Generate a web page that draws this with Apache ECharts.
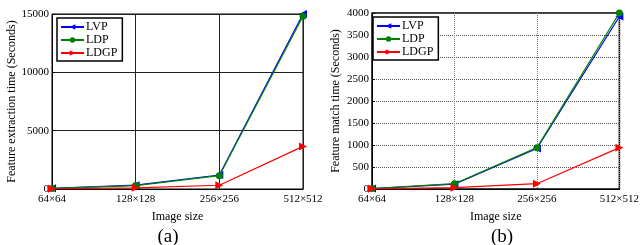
<!DOCTYPE html>
<html><head><meta charset="utf-8">
<script src="https://cdn.jsdelivr.net/npm/echarts@6/dist/echarts.min.js"></script>
<style>html,body{margin:0;padding:0;background:#fff}#c{width:642px;height:245px}</style>
</head><body><div id="c"></div>
<script>
const categories = ['64×64', '128×128', '256×256', '512×512'];
const extLVP = [60, 330, 1200, 15000];
const extLDP = [50, 290, 1140, 14800];
const extLDGP = [20, 100, 320, 3650];
const matchLVP = [10, 110, 920, 3920];
const matchLDP = [10, 120, 940, 4000];
const matchLDGP = [5, 30, 120, 940];
const extTicks = [0, 5000, 10000, 15000];
const matchTicks = [0, 500, 1000, 1500, 2000, 2500, 3000, 3500, 4000];

const F = '"Liberation Serif", "Times New Roman", serif';
const leftArrow = 'path://M0,5 L10,0 L10,10 Z';
const rightArrow = 'path://M10,5 L0,0 L0,10 Z';
const names = ['LVP', 'LDP', 'LDGP'];
const colors = ['#0000ff', '#008000', '#ff0000'];
const symbols = [leftArrow, 'circle', rightArrow];

const chart = echarts.init(document.getElementById('c'));
function mkX(i) {
  return {
    type: 'category', gridIndex: i, data: categories, boundaryGap: false,
    name: 'Image size', nameLocation: 'middle', nameGap: 22,
    nameTextStyle: { fontFamily: F, fontSize: 12, color: '#000' },
    axisLine: { lineStyle: { color: '#000', width: 1 } },
    axisTick: { show: false },
    axisLabel: { fontFamily: F, fontSize: 11, color: '#000', margin: 5, showMaxLabel: true },
    splitLine: { show: true, lineStyle: { color: i === 0 ? '#222' : '#777', width: 1, type: i === 0 ? 'solid' : 'dotted' } }
  };
}
function mkY(i, ticks, name, nameGap) {
  const max = ticks[ticks.length - 1];
  return {
    type: 'value', gridIndex: i, min: ticks[0], max: max, interval: ticks[1] - ticks[0],
    name: name, nameLocation: 'middle', nameGap: nameGap,
    nameTextStyle: { fontFamily: F, fontSize: 12, color: '#000' },
    axisLine: { show: true, lineStyle: { color: '#000', width: 1 } },
    axisTick: { show: true, inside: true, length: 3, lineStyle: { color: '#000' } },
    axisLabel: { fontFamily: F, fontSize: 11, color: '#000', margin: 3, formatter: v => String(v) },
    splitLine: { show: true, lineStyle: { color: i === 0 ? '#222' : '#555', width: 1, type: i === 0 ? 'solid' : 'dotted' } }
  };
}
const series = [];
const dataSets = [[extLVP, extLDP, extLDGP], [matchLVP, matchLDP, matchLDGP]];
for (let g = 0; g < 2; g++) {
  for (let k = 0; k < 3; k++) {
    series.push({
      type: 'line', name: names[k], xAxisIndex: g, yAxisIndex: g,
      data: dataSets[g][k], symbol: symbols[k], symbolSize: k === 1 ? 7 : 8,
      showAllSymbol: true, color: colors[k],
      lineStyle: { color: colors[k], width: 1.2 },
      itemStyle: { color: colors[k] }, z: 2 + k, animation: false
    });
  }
}
const legendCommon = {
  orient: 'vertical', data: names, itemWidth: 23, itemHeight: 7, itemGap: 1,
  textStyle: { fontFamily: F, fontSize: 12, color: '#000', padding: [0, 0, 0, -3] },
  borderColor: '#000', borderWidth: 1.5, padding: [3, 5, 2, 3], backgroundColor: '#fff'
};
chart.setOption({
  animation: false,
  textStyle: { fontFamily: F },
  title: [
    { text: '(a)', left: 163, top: 222, textAlign: 'center', textStyle: { fontFamily: F, fontSize: 19, fontWeight: 'normal', color: '#000', lineHeight: 20 } },
    { text: '(b)', left: 497, top: 222, textAlign: 'center', textStyle: { fontFamily: F, fontSize: 19, fontWeight: 'normal', color: '#000', lineHeight: 20 } }
  ],
  legend: [
    Object.assign({ left: 57, top: 18, z: 10 }, legendCommon),
    Object.assign({ left: 373, top: 17, z: 10 }, legendCommon)
  ],
  grid: [
    { left: 52, top: 14, width: 251, height: 175, show: true, borderColor: '#000', borderWidth: 1, containLabel: false },
    { left: 372, top: 13, width: 253, height: 176, show: true, borderColor: '#000', borderWidth: 1.5, containLabel: false }
  ],
  xAxis: [mkX(0), mkX(1)],
  yAxis: [mkY(0, extTicks, 'Feature extraction time (Seconds)', 32), mkY(1, matchTicks, 'Feature match time (Seconds)', 30)],
  series: series
});
</script></body></html>
